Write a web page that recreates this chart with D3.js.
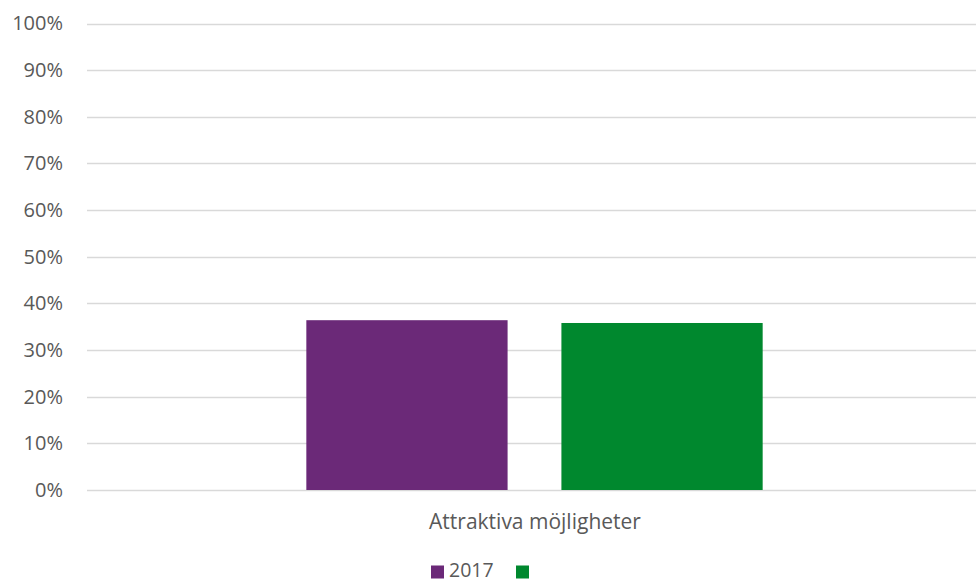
<!DOCTYPE html>
<html><head><meta charset="utf-8">
<script src="https://cdn.jsdelivr.net/npm/d3@7"></script>
<style>body{margin:0;background:#fff}svg{display:block}text{font-family:"Open Sans",sans-serif;fill:#595959}</style>
</head><body><svg id="c" width="976" height="583"></svg>
<script>
const categories = ["Attraktiva möjligheter"];
const seriesNames = ["2017", ""];
const seriesColors = ["#6B2978", "#00882E"];
const values2017 = [0.364];
const valuesOther = [0.358];
const yTicks = [0,0.1,0.2,0.3,0.4,0.5,0.6,0.7,0.8,0.9,1.0];

const svg = d3.select("#c");
const pLeft = 87, pRight = 976, pTop = 23.5, pBottom = 490;
const y = d3.scaleLinear().domain([0,1]).range([pBottom, pTop]);
const x0 = d3.scaleBand().domain(categories).range([pLeft + 6, pRight]).paddingInner(0).paddingOuter(0.4675);
const x1 = d3.scaleBand().domain(seriesNames.map((d,i)=>i)).range([0, x0.bandwidth()]).paddingInner(0.211);

// gridlines
svg.append("g").selectAll("line").data(yTicks).join("line")
  .attr("x1", pLeft).attr("x2", pRight)
  .attr("y1", d=>Math.round(y(d))+0.5).attr("y2", d=>Math.round(y(d))+0.5)
  .attr("stroke", "#d9d9d9").attr("stroke-width", 1.3);

// y labels
const yAxis = d3.axisLeft(y).tickValues(yTicks).tickFormat(d3.format(".0%")).tickSize(0).tickPadding(0);
const ga = svg.append("g").attr("transform", `translate(63,0)`).call(yAxis);
ga.select(".domain").remove();
ga.selectAll("text").attr("font-size", "20px").attr("fill", "#595959").style("font-family", '"Open Sans",sans-serif');

// bars
const series = [values2017, valuesOther];
categories.forEach((c, ci) => {
  series.forEach((vals, si) => {
    svg.append("rect")
      .attr("x", x0(c) + x1(si))
      .attr("y", y(vals[ci]))
      .attr("width", x1.bandwidth())
      .attr("height", y(0) - y(vals[ci]))
      .attr("fill", seriesColors[si]);
  });
});

// category labels
svg.append("g").selectAll("text").data(categories).join("text")
  .attr("x", 535).attr("y", 529)
  .attr("text-anchor", "middle").attr("font-size", "21px").text(d=>d);

// legend
const lg = svg.append("g");
const legendX = [431, 516];
seriesNames.forEach((n, i) => {
  lg.append("rect").attr("x", legendX[i]).attr("y", 565.5).attr("width", 13).attr("height", 13).attr("fill", seriesColors[i]);
  if (n) lg.append("text").attr("x", legendX[i] + 18).attr("y", 577).attr("font-size", "19.5px").text(n);
});
</script></body></html>
